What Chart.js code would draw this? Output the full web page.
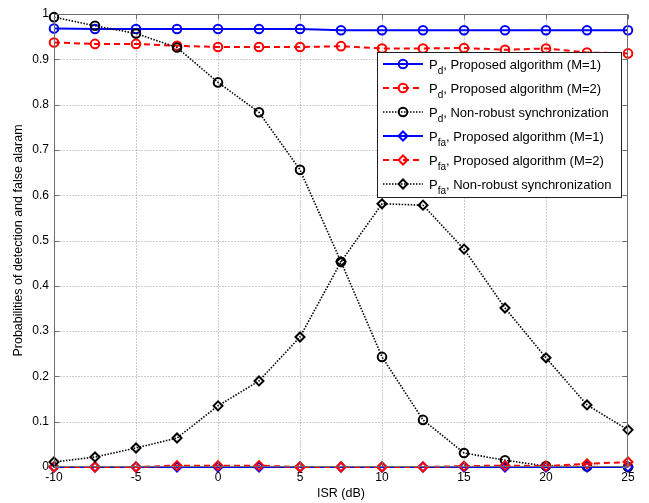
<!DOCTYPE html>
<html>
<head>
<meta charset="utf-8">
<script src="https://cdn.jsdelivr.net/npm/chart.js@4/dist/chart.umd.min.js"></script>
<style>
  html, body { margin: 0; padding: 0; background: #fff; }
  #wrap { position: relative; width: 649px; height: 503px; }
</style>
</head>
<body>
<div id="wrap"><canvas id="c"></canvas></div>
<script>
// ISR values (dB)
const isr = [-10, -7.5, -5, -2.5, 0, 2.5, 5, 7.5, 10, 12.5, 15, 17.5, 20, 22.5, 25];

// Probability of detection
const pdM1 = [0.968, 0.967, 0.967, 0.967, 0.967, 0.967, 0.967, 0.964, 0.964, 0.964, 0.964, 0.964, 0.964, 0.964, 0.964];
const pdM2 = [0.937, 0.934, 0.934, 0.930, 0.927, 0.927, 0.927, 0.929, 0.924, 0.924, 0.925, 0.921, 0.924, 0.915, 0.913];
const pdNonRobust = [0.993, 0.974, 0.957, 0.926, 0.849, 0.783, 0.656, 0.453, 0.243, 0.104, 0.031, 0.015, 0.002, 0.001, 0.000];

// Probability of false alarm
const pfaM1 = [0, 0, 0, 0, 0, 0, 0, 0, 0, 0, 0, 0, 0, 0, 0];
const pfaM2 = [0, 0, 0, 0.003, 0.003, 0.003, 0, 0, 0, 0, 0.002, 0.003, 0.002, 0.007, 0.011];
const pfaNonRobust = [0.011, 0.022, 0.042, 0.064, 0.135, 0.190, 0.287, 0.453, 0.581, 0.578, 0.481, 0.351, 0.241, 0.137, 0.082];

// Legend entries: [subscript, remaining text]
const legendText = [
  ['d', ', Proposed algorithm (M=1)'],
  ['d', ', Proposed algorithm (M=2)'],
  ['d', ', Non-robust synchronization'],
  ['fa', ', Proposed algorithm (M=1)'],
  ['fa', ', Proposed algorithm (M=2)'],
  ['fa', ', Non-robust synchronization']
];

const FONT = '"Liberation Sans", Arial, Helvetica, sans-serif';
const toXY = ys => isr.map((x, i) => ({ x: x, y: ys[i] }));

function series(ys, color, dash, width, marker, idx) {
  return {
    data: toXY(ys),
    borderColor: color,
    borderWidth: width,
    borderDash: dash,
    pointStyle: marker,
    pointRadius: marker === 'circle' ? 4.3 : 4.5,
    pointBorderWidth: 2,
    pointBorderColor: color,
    pointBackgroundColor: 'rgba(0,0,0,0)',
    tension: 0,
    fill: false,
    clip: false,
    order: 10 - idx
  };
}

const datasets = [
  series(pdM1, '#0000ff', [], 2, 'circle', 0),
  series(pdM2, '#ff0000', [6, 4], 2, 'circle', 1),
  series(pdNonRobust, '#000000', [1.5, 1.5], 1.6, 'circle', 2),
  series(pfaM1, '#0000ff', [], 2, 'rectRot', 3),
  series(pfaM2, '#ff0000', [6, 4], 2, 'rectRot', 4),
  series(pfaNonRobust, '#000000', [1.5, 1.5], 1.6, 'rectRot', 5)
];

function drawMarker(ctx, style, x, y, r, color) {
  ctx.save();
  ctx.setLineDash([]);
  ctx.strokeStyle = color;
  ctx.lineWidth = 2;
  ctx.beginPath();
  if (style === 'circle') {
    ctx.arc(x, y, r, 0, Math.PI * 2);
  } else {
    ctx.moveTo(x, y - r);
    ctx.lineTo(x + r, y);
    ctx.lineTo(x, y + r);
    ctx.lineTo(x - r, y);
    ctx.closePath();
  }
  ctx.stroke();
  ctx.restore();
}

function areaEdges(a) {
  return {
    L: Math.round(a.left) + 0.5, R: Math.round(a.right) - 0.5,
    T: Math.round(a.top) + 0.5, B: Math.round(a.bottom) - 0.5
  };
}

// Dotted grid behind the data
const gridPlugin = {
  id: 'dottedGrid',
  beforeDatasetsDraw(chart) {
    const { ctx, chartArea: a, scales } = chart;
    const { L, R, T, B } = areaEdges(a);
    ctx.save();
    ctx.strokeStyle = '#9a9a9a';
    ctx.lineWidth = 1;
    ctx.setLineDash([1, 2]);
    ctx.beginPath();
    scales.x.ticks.forEach(t => {
      const px = Math.round(scales.x.getPixelForValue(t.value)) + 0.5;
      if (px <= L + 1 || px >= R - 1) return;
      ctx.moveTo(px, T); ctx.lineTo(px, B);
    });
    scales.y.ticks.forEach(t => {
      const py = Math.round(scales.y.getPixelForValue(t.value)) + 0.5;
      if (py <= T + 1 || py >= B - 1) return;
      ctx.moveTo(L, py); ctx.lineTo(R, py);
    });
    ctx.stroke();
    ctx.restore();
  }
};

// Axes frame with inward tick marks on all four sides
const framePlugin = {
  id: 'frame',
  afterDatasetsDraw(chart) {
    const { ctx, chartArea: a, scales } = chart;
    const { L, R, T, B } = areaEdges(a);
    ctx.save();
    ctx.strokeStyle = '#6e6e6e';
    ctx.lineWidth = 1;
    ctx.setLineDash([]);
    ctx.strokeRect(L, T, R - L, B - T);
    const tl = 5;
    ctx.beginPath();
    scales.x.ticks.forEach(t => {
      const px = Math.round(scales.x.getPixelForValue(t.value)) + 0.5;
      ctx.moveTo(px, B); ctx.lineTo(px, B - tl);
      ctx.moveTo(px, T); ctx.lineTo(px, T + tl);
    });
    scales.y.ticks.forEach(t => {
      const py = Math.round(scales.y.getPixelForValue(t.value)) + 0.5;
      ctx.moveTo(L, py); ctx.lineTo(L + tl, py);
      ctx.moveTo(R, py); ctx.lineTo(R - tl, py);
    });
    ctx.stroke();
    ctx.restore();
  }
};

// Boxed legend with subscripted labels
const legendPlugin = {
  id: 'subLegend',
  afterDraw(chart) {
    const ctx = chart.ctx;
    const box = { x: 377.5, y: 52.5, w: 244, h: 145 };
    ctx.save();
    ctx.fillStyle = '#ffffff';
    ctx.fillRect(box.x, box.y, box.w, box.h);
    ctx.strokeStyle = '#202020';
    ctx.lineWidth = 1;
    ctx.setLineDash([]);
    ctx.strokeRect(box.x, box.y, box.w, box.h);

    const rowY0 = 64, rowStep = 24;
    const lineX0 = 383, lineX1 = 423, markX = 403, textX = 429;
    datasets.forEach((ds, i) => {
      const y = rowY0 + i * rowStep;
      ctx.save();
      ctx.strokeStyle = ds.borderColor;
      ctx.lineWidth = ds.borderWidth;
      ctx.setLineDash(ds.borderDash);
      ctx.beginPath();
      ctx.moveTo(lineX0, y);
      ctx.lineTo(lineX1, y);
      ctx.stroke();
      ctx.restore();
      drawMarker(ctx, ds.pointStyle, markX, y, ds.pointRadius, ds.borderColor);

      const [sub, rest] = legendText[i];
      const base = y + 4.5;
      ctx.fillStyle = '#000';
      ctx.textBaseline = 'alphabetic';
      ctx.textAlign = 'left';
      let x = textX;
      ctx.font = '13px ' + FONT;
      ctx.fillText('P', x, base);
      x += ctx.measureText('P').width;
      ctx.font = '10px ' + FONT;
      ctx.fillText(sub, x, base + 5);
      x += ctx.measureText(sub).width;
      ctx.font = '13px ' + FONT;
      ctx.fillText(rest, x, base);
    });
    ctx.restore();
  }
};

new Chart(document.getElementById('c'), {
  type: 'line',
  data: { datasets: datasets },
  options: {
    responsive: true,
    maintainAspectRatio: false,
    animation: false,
    layout: { padding: { top: 14, right: 21, left: 0, bottom: 0 } },
    plugins: {
      legend: { display: false },
      tooltip: { enabled: false }
    },
    scales: {
      x: {
        type: 'linear',
        min: -10,
        max: 25,
        afterFit(scale) { scale.height = 36; },
        ticks: {
          stepSize: 5,
          padding: 3,
          color: '#000',
          font: { family: FONT, size: 12 }
        },
        grid: { display: false, drawTicks: false },
        border: { display: false },
        title: {
          display: true,
          text: 'ISR (dB)',
          color: '#000',
          font: { family: FONT, size: 12.5 },
          padding: { top: 0, bottom: 1.5 }
        }
      },
      y: {
        type: 'linear',
        min: 0,
        max: 1,
        afterFit(scale) { scale.width = 54; },
        ticks: {
          stepSize: 0.1,
          padding: 5,
          color: '#000',
          font: { family: FONT, size: 12 },
          callback: v => (Math.abs(v) < 1e-9 ? '0' : Math.abs(v - 1) < 1e-9 ? '1' : v.toFixed(1))
        },
        grid: { display: false, drawTicks: false },
        border: { display: false },
        title: {
          display: true,
          text: 'Probabilities of detection and false alaram',
          color: '#000',
          font: { family: FONT, size: 12.5 },
          padding: { top: 11, bottom: 0 }
        }
      }
    }
  },
  plugins: [gridPlugin, framePlugin, legendPlugin]
});
</script>
</body>
</html>
